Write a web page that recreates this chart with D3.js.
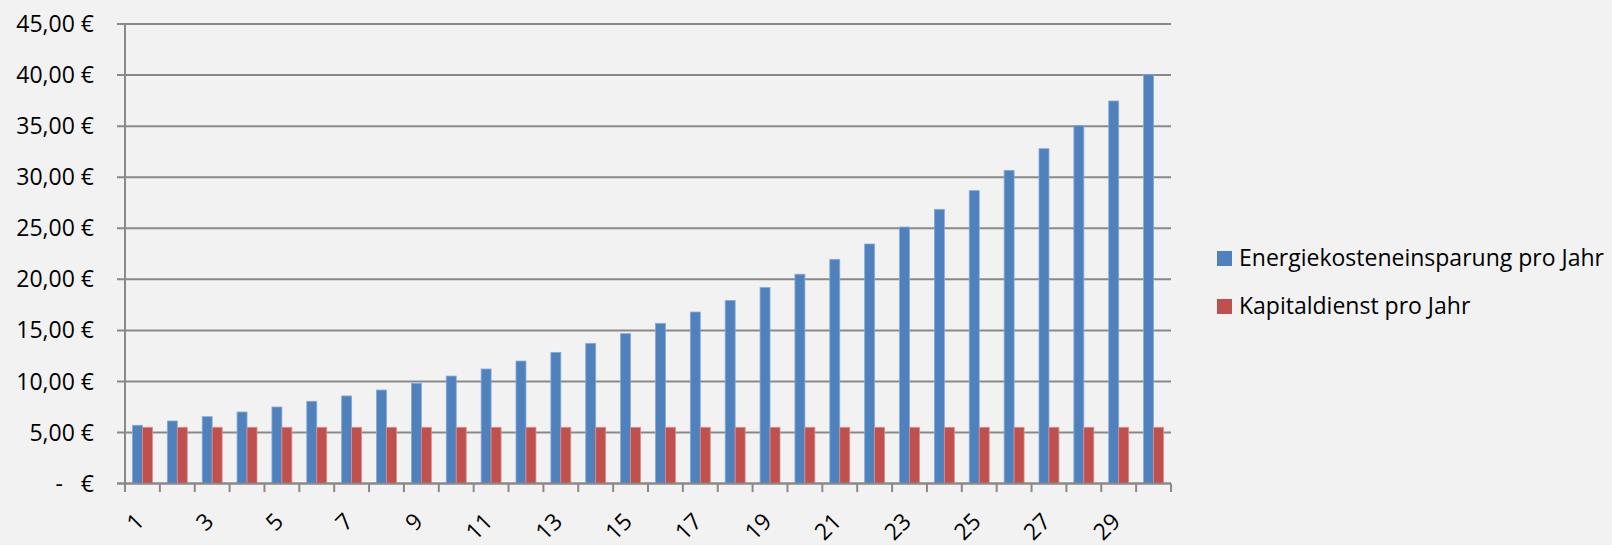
<!DOCTYPE html>
<html>
<head>
<meta charset="utf-8">
<script src="https://cdn.jsdelivr.net/npm/d3@7/dist/d3.min.js"></script>
<style>
  html, body { margin: 0; padding: 0; background: #f2f2f2; }
  svg { display: block; }
  text { font-family: "Open Sans", Lato, sans-serif; fill: #000; }
</style>
</head>
<body>
<svg id="chart" width="1612" height="545"></svg>
<script>
// Years 1..30
const years = d3.range(1, 31);

// Annual energy cost savings (€)
const energySavings = [
  5.71, 6.13, 6.55, 7.01, 7.50, 8.06, 8.58, 9.16, 9.82, 10.53,
  11.22, 12.00, 12.85, 13.73, 14.68, 15.69, 16.80, 17.94, 19.20, 20.50,
  21.96, 23.46, 25.12, 26.85, 28.68, 30.67, 32.79, 35.04, 37.46, 40.07
];

// Annual capital service (€), constant
const capitalService = [
  5.51, 5.51, 5.51, 5.51, 5.51, 5.51, 5.51, 5.51, 5.51, 5.51,
  5.51, 5.51, 5.51, 5.51, 5.51, 5.51, 5.51, 5.51, 5.51, 5.51,
  5.51, 5.51, 5.51, 5.51, 5.51, 5.51, 5.51, 5.51, 5.51, 5.51
];

const seriesNames = ["Energiekosteneinsparung pro Jahr", "Kapitaldienst pro Jahr"];
const seriesColors = ["#4f81bd", "#c0504d"];
const seriesStrokes = ["#88a9d6", "#d88d8b"];

const yTicks = [0, 5, 10, 15, 20, 25, 30, 35, 40, 45];

const svg = d3.select("#chart");

const plotLeft = 125, plotRight = 1171, plotTop = 24, plotBottom = 483.6;

const x = d3.scaleBand().domain(years).range([plotLeft, plotRight]).padding(0);
const y = d3.scaleLinear().domain([0, 45]).range([plotBottom, plotTop]);

const bw = x.bandwidth();
const barW = bw / 3.5;
const gapOff = barW * 0.75;

// Accounting-style currency labels
function euro(v) {
  if (v === 0) return "-   €";
  return d3.format(".2f")(v).replace(".", ",") + " €";
}

const gridColor = "#898989";
const axisFont = 23;
const legendFont = 23;

// Horizontal gridlines with outward ticks
svg.append("g")
  .selectAll("line")
  .data(yTicks)
  .join("line")
  .attr("x1", plotLeft - 8)
  .attr("x2", plotRight)
  .attr("y1", d => y(d))
  .attr("y2", d => y(d))
  .attr("stroke", gridColor)
  .attr("stroke-width", 2);

// Y tick labels
svg.append("g")
  .selectAll("text")
  .data(yTicks)
  .join("text")
  .attr("x", 94)
  .attr("y", d => y(d))
  .attr("dy", "0.35em")
  .attr("text-anchor", "end")
  .attr("font-size", axisFont)
  .style("white-space", "pre")
  .text(d => euro(d));

// Bars
const series = [energySavings, capitalService];
series.forEach((vals, si) => {
  svg.append("g")
    .selectAll("rect")
    .data(years)
    .join("rect")
    .attr("x", (d) => x(d) + gapOff + si * barW)
    .attr("width", barW)
    .attr("y", (d, i) => y(vals[i]))
    .attr("height", (d, i) => y(0) - y(vals[i]))
    .attr("fill", seriesColors[si])
    .attr("stroke", seriesStrokes[si])
    .attr("stroke-width", 0.8);
});

// Y axis line
svg.append("line")
  .attr("x1", plotLeft).attr("x2", plotLeft)
  .attr("y1", plotTop).attr("y2", plotBottom)
  .attr("stroke", gridColor).attr("stroke-width", 2);

// X axis line
svg.append("line")
  .attr("x1", plotLeft - 8).attr("x2", plotRight)
  .attr("y1", plotBottom).attr("y2", plotBottom)
  .attr("stroke", gridColor).attr("stroke-width", 2);

// X ticks at category boundaries
const boundaries = years.map(d => x(d)).concat([plotRight]);
svg.append("g")
  .selectAll("line")
  .data(boundaries)
  .join("line")
  .attr("x1", d => d).attr("x2", d => d)
  .attr("y1", plotBottom).attr("y2", plotBottom + 8.5)
  .attr("stroke", gridColor).attr("stroke-width", 2);

// X labels, every second year, rotated
svg.append("g")
  .selectAll("text")
  .data(years.filter(d => d % 2 === 1))
  .join("text")
  .attr("transform", d => `translate(${x(d) + bw / 2 + 3},523) rotate(-45)`)
  .attr("text-anchor", "end")
  .attr("font-size", axisFont)
  .text(d => d);

// Legend
const legend = svg.append("g");
seriesNames.forEach((name, i) => {
  const ly = 251 + i * 48;
  legend.append("rect")
    .attr("x", 1217).attr("y", ly)
    .attr("width", 15).attr("height", 15)
    .attr("fill", seriesColors[i]);
  legend.append("text")
    .attr("x", 1239).attr("y", ly + 15)
    .attr("font-size", legendFont)
    .text(name);
});
</script>
</body>
</html>
